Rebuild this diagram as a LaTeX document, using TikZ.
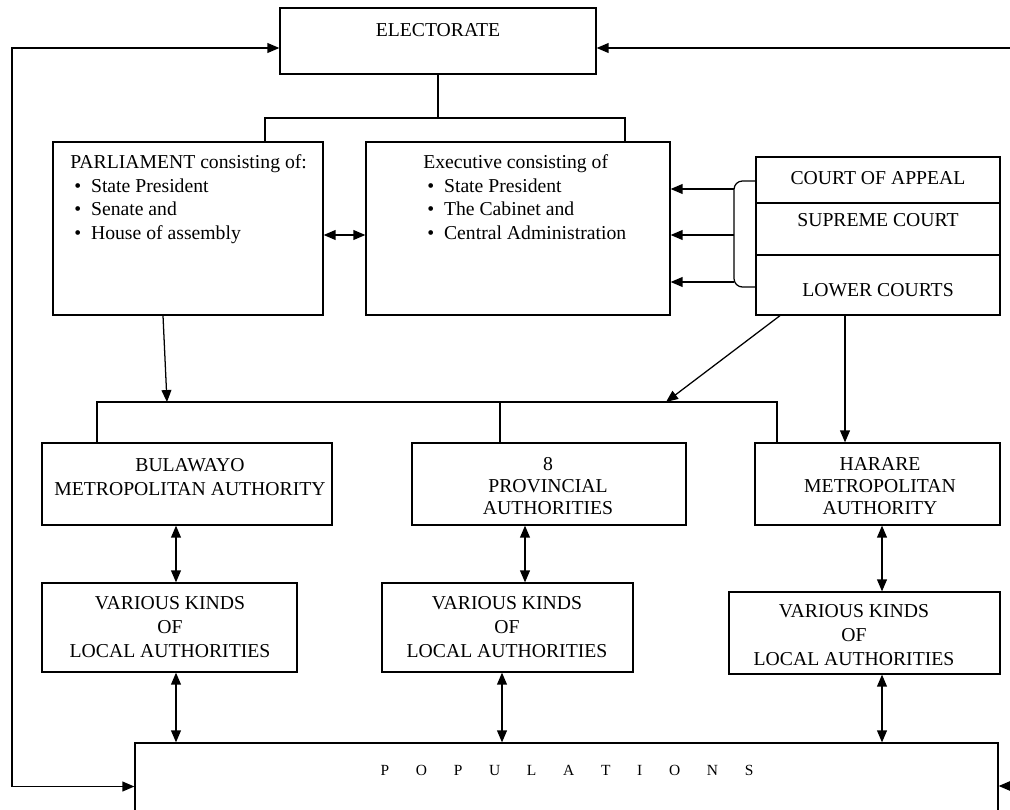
\documentclass[tikz,border=0pt]{standalone}
\usepackage{fontspec}
\setmainfont{Liberation Serif}
\usetikzlibrary{arrows.meta,positioning,fit}

\newcommand{\itm}{\hspace*{0.1cm}\makebox[0.42cm][l]{\textbullet}}
\newcommand{\lgap}{\hskip 19pt}

\begin{document}
\begin{tikzpicture}[x=0.025cm,y=-0.025cm,
  box/.style={draw,line width=0.9pt,inner sep=0pt},
  lbl/.style={font=\fontsize{14}{17}\selectfont,inner sep=0pt,align=center},
  lbl2/.style={font=\fontsize{14}{15.6}\selectfont,inner sep=0pt,align=center},
  ln/.style={line width=0.9pt},
  arr/.style={line width=0.9pt,-{Triangle[length=8.5pt,width=7pt]}},
  dbl/.style={line width=0.9pt,{Triangle[length=8.5pt,width=7pt]}-{Triangle[length=8.5pt,width=7pt]}}]

\useasboundingbox (0,0) rectangle (1010,809);
\clip (0,0) rectangle (1010,809);

% boxes
\node[box,fit={(280,8) (596,74)}] (elect) {};
\node[box,fit={(53,142) (323,315)}] (parl) {};
\node[box,fit={(366,142) (670,315)}] (exec) {};
\node[box,fit={(756,157) (1000,203)}] (appeal) {};
\node[box,fit={(756,203) (1000,255)}] (supreme) {};
\node[box,fit={(756,255) (1000,315)}] (lower) {};
\node[box,fit={(42,443) (332,525)}] (bula) {};
\node[box,fit={(412,443) (686,525)}] (prov) {};
\node[box,fit={(755,443) (1000,525)}] (hara) {};
\node[box,fit={(42,583) (297,672)}] (var1) {};
\node[box,fit={(382,583) (633,672)}] (var2) {};
\node[box,fit={(729,592) (1000,674)}] (var3) {};
\node[box,fit={(135,743) (998,830)}] (pop) {};

% texts
\node[lbl] (electtxt) at (438,30) {ELECTORATE};
\node[lbl,align=left,anchor=north west] (parltxt) at (70,154)
  {PARLIAMENT consisting of:\\ \itm State President\\ \itm Senate and\\ \itm House of assembly};
\node[lbl,align=left,anchor=north west] (exectxt) at (423,154)
  {Executive consisting of\\ \itm State President\\ \itm The Cabinet and\\ \itm Central Administration};
\node[lbl] (appealtxt) at (878,178) {COURT OF APPEAL};
\node[lbl] (supremetxt) at (878,220) {SUPREME COURT};
\node[lbl] (lowertxt) at (878,290) {LOWER COURTS};
\node[lbl] (bulatxt) at (190,477) {BULAWAYO\\METROPOLITAN AUTHORITY};
\node[lbl2] (provtxt) at (548,486) {8\\PROVINCIAL\\AUTHORITIES};
\node[lbl2] (haratxt) at (880,486) {HARARE\\METROPOLITAN\\AUTHORITY};
\node[lbl] (var1txt) at (170,627) {VARIOUS KINDS\\OF\\LOCAL AUTHORITIES};
\node[lbl] (var2txt) at (507,627) {VARIOUS KINDS\\OF\\LOCAL AUTHORITIES};
\node[lbl] (var3txt) at (854,635) {VARIOUS KINDS\\OF\\LOCAL AUTHORITIES};
\node[font=\fontsize{11}{13}\selectfont,inner sep=0pt] (poptxt) at (567,770)
  {P\lgap O\lgap P\lgap U\lgap L\lgap A\lgap T\lgap I\lgap O\lgap N\lgap S};

% helper points
\coordinate (ebus) at (438,118);
\coordinate (busL) at (97,402);
\coordinate (busR) at (777,402);
\coordinate (busM) at (666,402);
\coordinate (brc) at (734,235);
\coordinate (lft) at (12,48);
\coordinate (rgt) at (1030,48);
\coordinate (rgtb) at (1030,786);

% electorate to parliament and executive
\draw[ln] (elect.south) -- (ebus);
\draw[ln] (parl.north -| 265,0) |- (ebus) -| (exec.north -| 625,0);
\draw[dbl] (parl.east |- 0,235) -- (exec.west |- 0,235);

% courts
\draw[ln,rounded corners=6] (appeal.west |- 0,181) -- (brc |- 0,181) -- (brc |- 0,287) -- (lower.west |- 0,287);
\foreach \yy in {189,235,282}
  \draw[arr] (brc |- 0,\yy) -- (exec.east |- 0,\yy);

% down to the authorities
\draw[arr] (parl.south -| 163,0) -- (busL -| 167,0);
\draw[ln] (bula.north -| busL) -- (busL) -- (busR) -- (hara.north -| busR);
\draw[ln] (prov.north -| 500,0) -- (busL -| 500,0);
\draw[arr] (lower.south -| 780,0) -- (busM);
\draw[arr] (lower.south -| 845,0) -- (hara.north -| 845,0);

% authorities to local authorities to populations
\draw[dbl] (bula.south -| 176,0) -- (var1.north -| 176,0);
\draw[dbl] (prov.south -| 525,0) -- (var2.north -| 525,0);
\draw[dbl] (hara.south -| 882,0) -- (var3.north -| 882,0);
\draw[dbl] (var1.south -| 176,0) -- (pop.north -| 176,0);
\draw[dbl] (var2.south -| 502,0) -- (pop.north -| 502,0);
\draw[dbl] (var3.south -| 882,0) -- (pop.north -| 882,0);

% feedback loops
\draw[dbl] (pop.west) -| (lft) -- (elect.west |- lft);
\draw[dbl] (pop.east |- rgtb) -- (rgtb) -- (rgt) -- (elect.east |- rgt);

\end{tikzpicture}
\end{document}
